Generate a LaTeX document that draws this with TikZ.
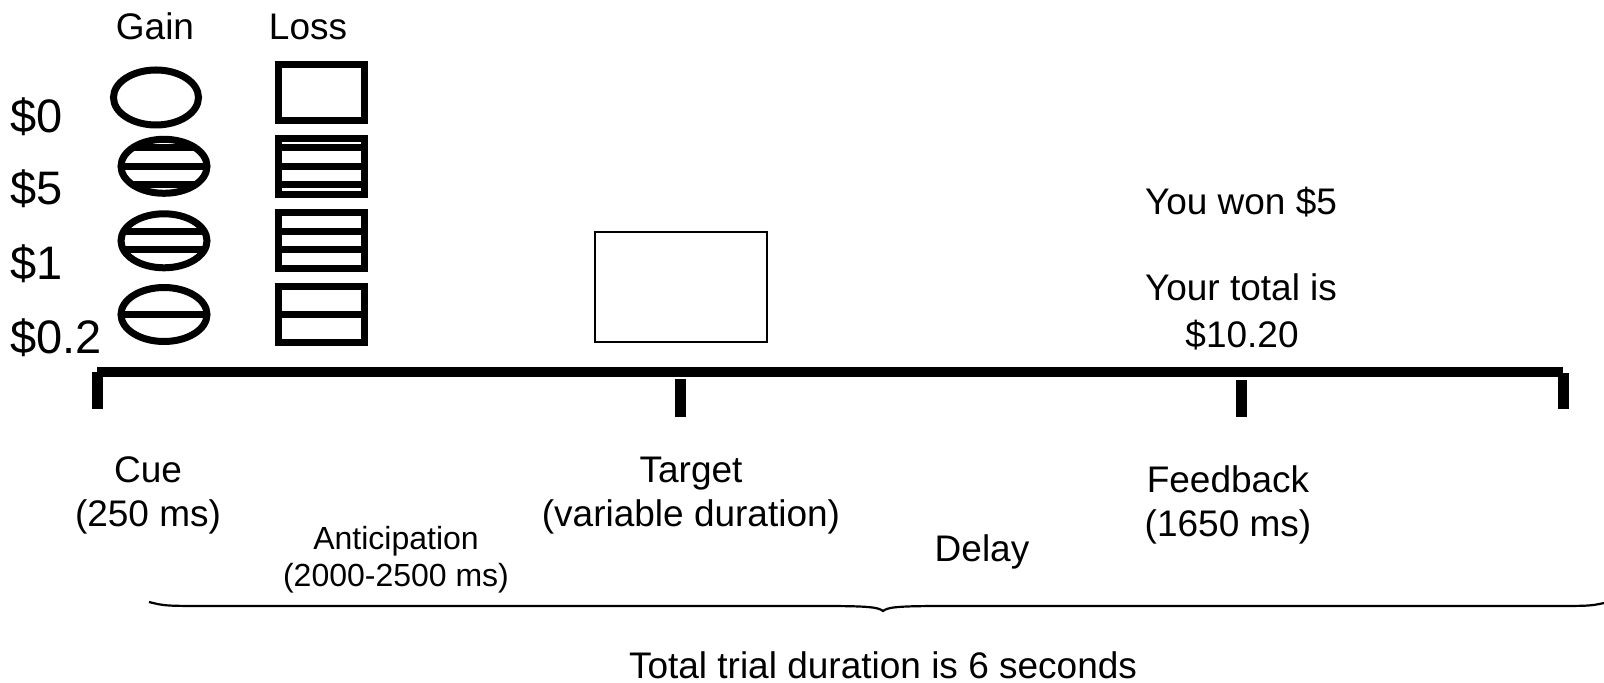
\documentclass[tikz,border=0pt]{standalone}
\usepackage{fontspec}
\setmainfont{Liberation Sans}
\begin{document}
\begin{tikzpicture}[x=0.5pt,y=-0.5pt,
  txt/.style={inner sep=0pt, anchor=base, font=\fontsize{18.5}{22}\selectfont},
  bigtxt/.style={inner sep=0pt, anchor=base west, font=\fontsize{23.5}{28}\selectfont},
  smalltxt/.style={inner sep=0pt, anchor=base, font=\fontsize{16}{19}\selectfont},
  cueline/.style={line width=3.5pt},
  stripe/.style={line width=3.5pt},
  bar/.style={fill=black}]
\useasboundingbox (0,0) rectangle (1604,683);

% column headings
\node[txt] (gain) at (155,40) {Gain};
\node[txt] (loss) at (308,40) {Loss};

% reward magnitudes
\node[bigtxt] (m0)  at (10,133) {\$0};
\node[bigtxt] (m5)  at (10,205) {\$5};
\node[bigtxt] (m1)  at (10,280) {\$1};
\node[bigtxt] (m02) at (10,354) {\$0.2};

% gain cues: ellipses with horizontal stripes
\draw[cueline] (156,97.5) ellipse [x radius=21.25pt, y radius=13.75pt];
\foreach \cy/\offs in {166.3/{-18.5,0,18.5}, 240.8/{-9,9}, 314.5/{0}}{
  \begin{scope}
    \clip (164,\cy) ellipse [x radius=21.5pt, y radius=13.5pt];
    \foreach \d in \offs
      \draw[stripe] (100,{\cy+\d}) -- (230,{\cy+\d});
  \end{scope}
  \draw[cueline] (164,\cy) ellipse [x radius=21.5pt, y radius=13.5pt];
}

% loss cues: squares with horizontal stripes
\draw[cueline] (278.5,64.5) rectangle (364.5,120.5);
\foreach \cy/\offs in {166.5/{-18.5,0,18.5}, 240.5/{-9,9}, 314.5/{0}}{
  \foreach \d in \offs
    \draw[stripe] (278.5,{\cy+\d}) -- (364.5,{\cy+\d});
  \draw[cueline] (278.5,{\cy-28}) rectangle (364.5,{\cy+28});
}

% target box
\draw[line width=1pt] (595,232) rectangle (767,342);

% feedback screen
\node[txt] (won)   at (1241,215) {You won \$5};
\node[txt] (total) at (1241,301) {Your total is};
\node[txt] (amt)   at (1242,348) {\$10.20};

% time line and ticks
\fill[bar] (97,367) rectangle (1563,377);
\fill[bar] (92,372) rectangle (103,409);
\fill[bar] (675,379) rectangle (686,417);
\fill[bar] (1236,380) rectangle (1247,417);
\fill[bar] (1558,373) rectangle (1569,409);

% event labels
\node[txt] (cue)   at (148,482) {Cue};
\node[txt] (cued)  at (148,526) {(250 ms)};
\node[txt] (tgt)   at (691,482) {Target};
\node[txt] (tgtd)  at (691,526) {(variable duration)};
\node[txt] (fb)    at (1228,492) {Feedback};
\node[txt] (fbd)   at (1228,536) {(1650 ms)};
\node[smalltxt] (ant)  at (396,549) {Anticipation};
\node[smalltxt] (antd) at (396,586) {(2000-2500 ms)};
\node[txt] (delay) at (982,561) {Delay};

% brace spanning the trial
\draw[line width=1.1pt]
  (149,602) .. controls (165,606) .. (215,606) -- (820,606)
  .. controls (868,606) and (878,607) .. (883,611)
  .. controls (888,607) and (898,606) .. (946,606) -- (1545,606)
  .. controls (1590,606) .. (1604,603);
\node[txt] (dur) at (883,678) {Total trial duration is 6 seconds};
\end{tikzpicture}
\end{document}
